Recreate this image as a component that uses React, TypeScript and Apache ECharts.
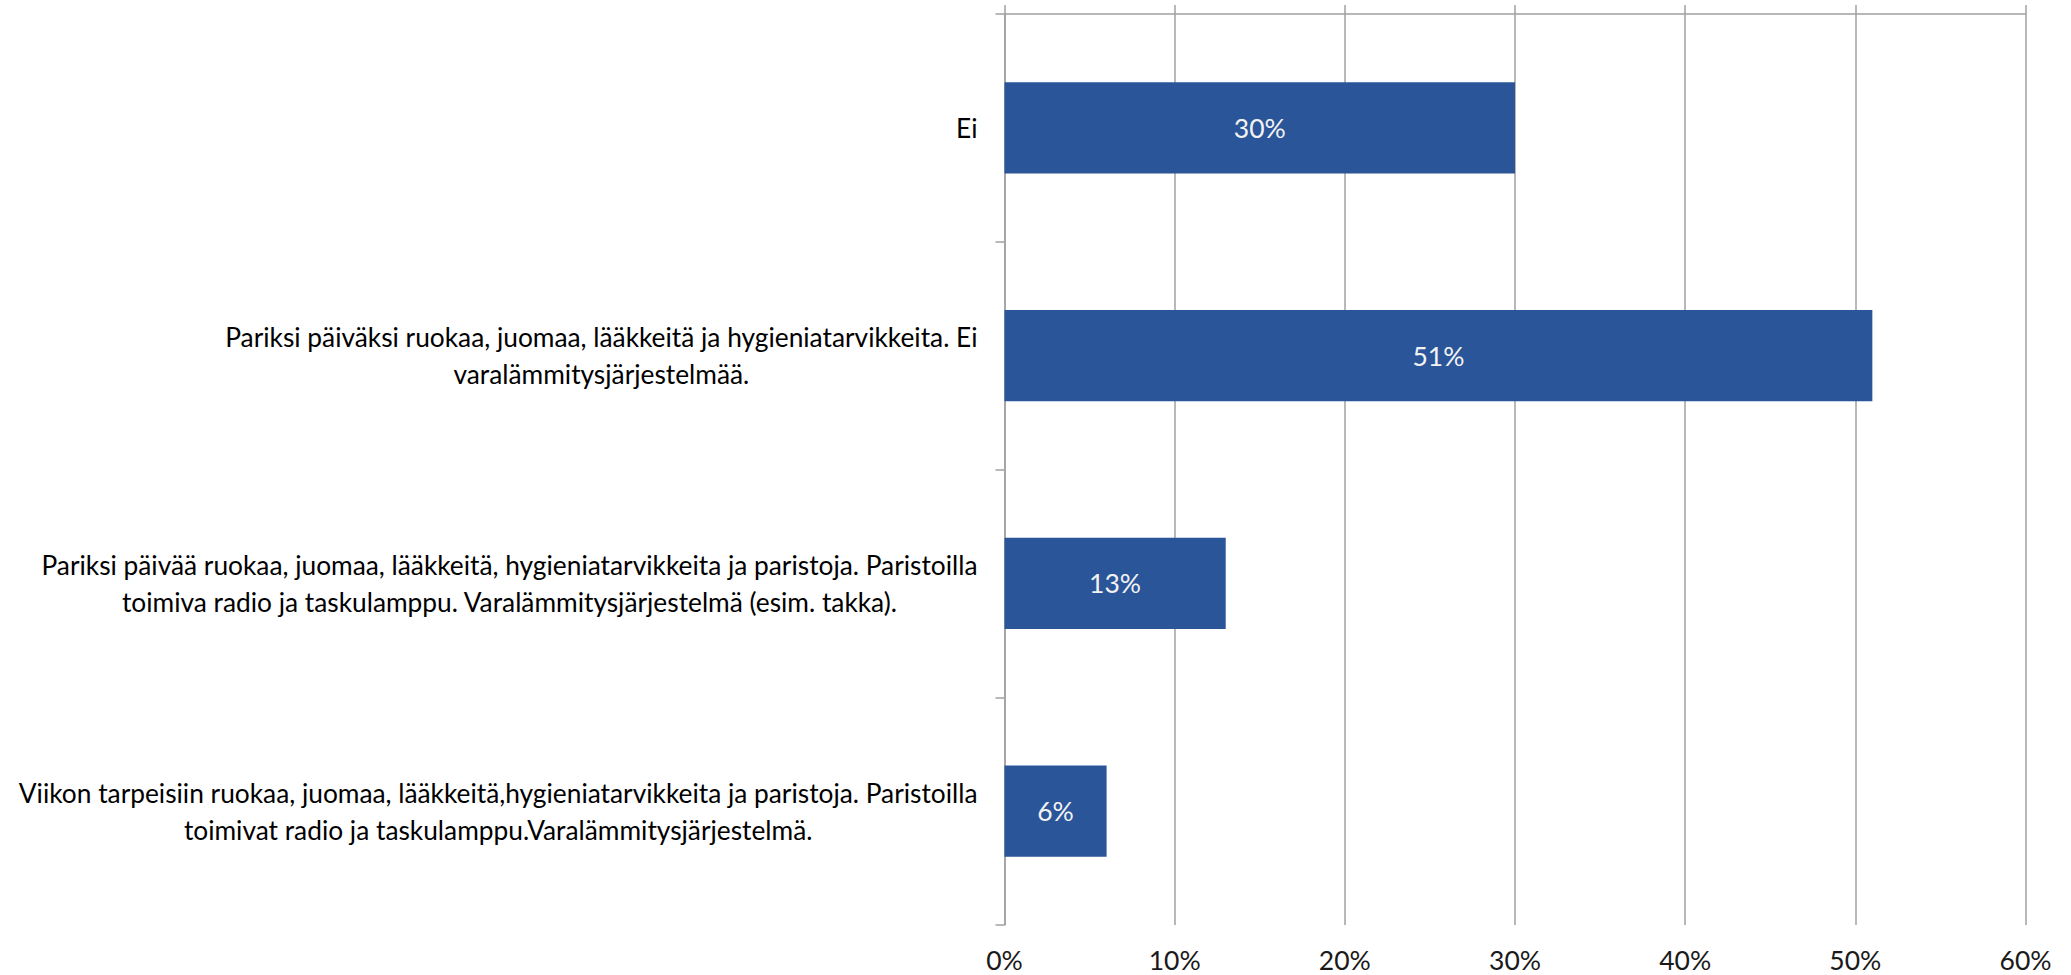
import React, { useEffect, useRef } from "react";
import * as echarts from "echarts";

const categories: string[] = [
  "Ei",
  "Pariksi päiväksi ruokaa, juomaa, lääkkeitä ja hygieniatarvikkeita. Ei\nvaralämmitysjärjestelmää.",
  "Pariksi päivää ruokaa, juomaa, lääkkeitä, hygieniatarvikkeita ja paristoja. Paristoilla\ntoimiva radio ja taskulamppu. Varalämmitysjärjestelmä (esim. takka).",
  "Viikon tarpeisiin ruokaa, juomaa, lääkkeitä,hygieniatarvikkeita ja paristoja. Paristoilla\ntoimivat radio ja taskulamppu.Varalämmitysjärjestelmä.",
];
const values: number[] = [30, 51, 13, 6];
const axisMin = 0;
const axisMax = 60;
const axisStep = 10;

const FONT = 'Lato, "Liberation Sans", Arial, sans-serif';
const GRID_COLOR = "#a0a0a0";
const CAT_SIZE = 26.3;
const NUM_SIZE = 26.5;

export default function App() {
  const ref = useRef<HTMLDivElement>(null);
  useEffect(() => {
    document.body.style.margin = "0";
    if (!ref.current) return;
    const chart = echarts.init(ref.current, undefined, { renderer: "svg" });
    chart.setOption({
      animation: false,
      backgroundColor: "#ffffff",
      grid: {
        left: 1004.5,
        right: 45.5,
        top: 14,
        bottom: 50,
        containLabel: false,
        outerBoundsMode: "none",
      },
      xAxis: [
        {
          type: "value",
          position: "bottom",
          min: axisMin,
          max: axisMax,
          interval: axisStep,
          axisLine: { show: false },
          axisTick: { show: false },
          splitLine: { show: true, lineStyle: { color: GRID_COLOR, width: 1.5 } },
          axisLabel: {
            margin: 21,
            fontFamily: FONT,
            fontSize: NUM_SIZE,
            color: "#1a1a1a",
            formatter: (v: number) => `${v}%`,
          },
        },
        {
          type: "value",
          position: "top",
          min: axisMin,
          max: axisMax,
          interval: axisStep,
          axisLine: { show: true, lineStyle: { color: GRID_COLOR, width: 1.5 } },
          axisTick: { show: true, length: 9, lineStyle: { color: GRID_COLOR, width: 1.5 } },
          splitLine: { show: false },
          axisLabel: { show: false },
        },
      ],
      yAxis: {
        type: "category",
        inverse: true,
        data: categories,
        axisLine: { show: true, lineStyle: { color: GRID_COLOR, width: 1.5 } },
        axisTick: { show: true, length: 9, lineStyle: { color: GRID_COLOR, width: 1.5 } },
        splitLine: { show: false },
        axisLabel: {
          margin: 27,
          fontFamily: FONT,
          fontSize: CAT_SIZE,
          color: "#000000",
          lineHeight: 37,
          formatter: (v: string) =>
            v
              .split("\n")
              .map((l) => `{c|${l}}`)
              .join("\n"),
          rich: {
            c: {
              align: "center",
              fontFamily: FONT,
              fontSize: CAT_SIZE,
              lineHeight: 37,
              color: "#000000",
            },
          },
        },
      },
      series: [
        {
          type: "bar",
          xAxisIndex: 0,
          data: values,
          barCategoryGap: "60%",
          itemStyle: { color: "#2a5599" },
          label: {
            show: true,
            position: "inside",
            fontFamily: FONT,
            fontSize: NUM_SIZE,
            color: "#f2f2f2",
            formatter: (p: any) => `${p.value}%`,
          },
        },
      ],
    });
    return () => chart.dispose();
  }, []);
  return <div ref={ref} style={{ width: 2071, height: 975 }} />;
}
